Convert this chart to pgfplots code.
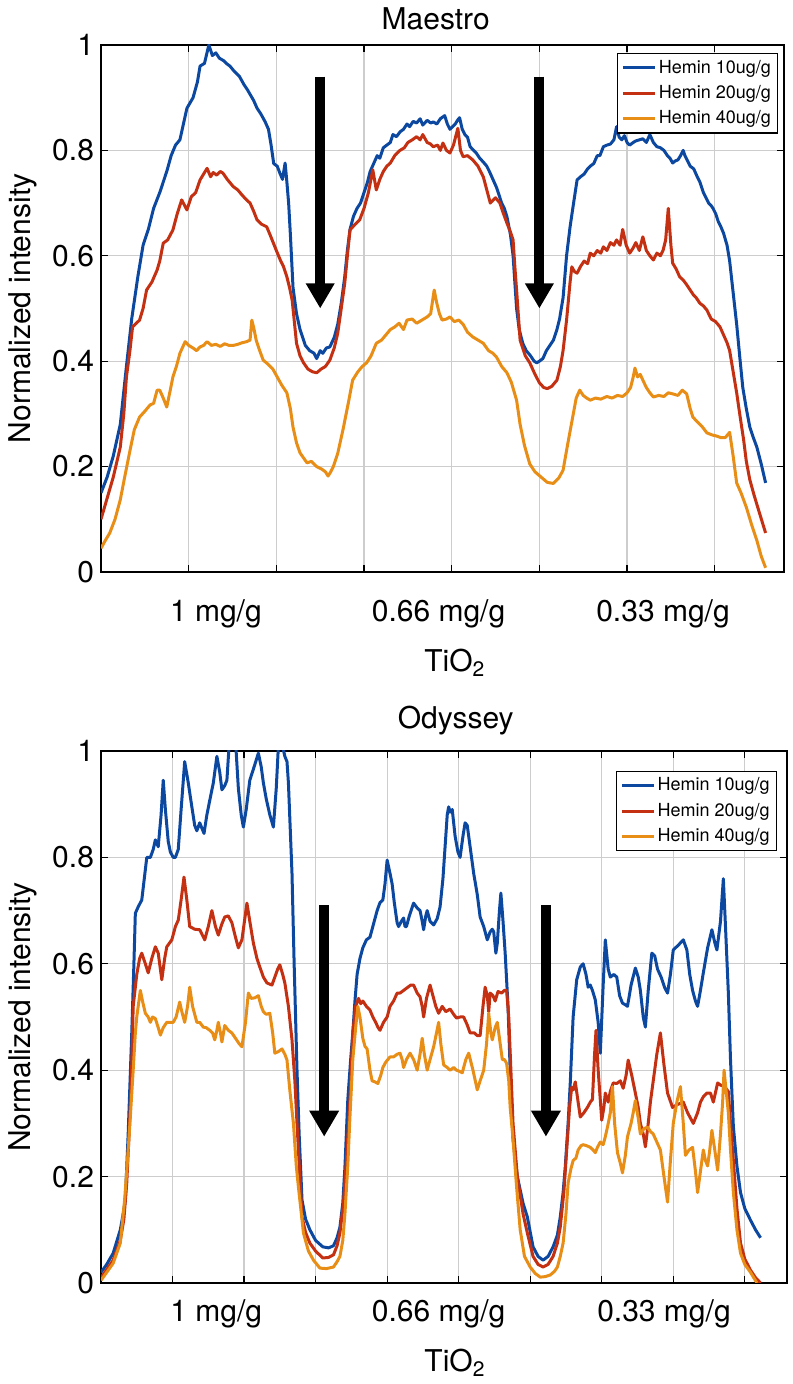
\documentclass[border=0pt]{standalone}
\usepackage{fontspec}
\setmainfont{TeX Gyre Heros}
\usepackage{pgfplots}
\pgfplotsset{compat=1.18}
\usetikzlibrary{arrows.meta}
\definecolor{cblue}{RGB}{12,72,160}
\definecolor{cred}{RGB}{196,48,18}
\definecolor{corange}{RGB}{232,142,22}
\definecolor{cgrid}{RGB}{205,205,205}
\newcommand{\bigf}{\fontsize{15}{18}\selectfont}
\pgfplotsset{
  mystyle/.style={
    scale only axis,
    xmin=0, ymin=0, ymax=1,
    ytick={0,0.2,0.4,0.6,0.8,1},
    yticklabels={0,0.2,0.4,0.6,0.8,1},
    xticklabels={},
    grid=major,
    grid style={cgrid, line width=0.6pt},
    axis line style={line width=0.6pt},
    major tick length=3.5pt,
    tick style={black, line width=0.6pt},
    tick label style={font=\bigf},
    label style={font=\bigf},
    title style={font=\bigf},
    clip mode=individual,
    legend cell align=left,
    legend style={font=\fontsize{9}{10}\selectfont, draw=black, line width=0.6pt,
      inner sep=2pt, row sep=2.2pt, nodes={inner sep=1.2pt}},
    legend image code/.code={\draw[#1, line width=1.5pt] (0pt,0pt) -- (16pt,0pt);},
    every axis plot/.append style={line width=1.5pt, line join=round},
  }
}
\begin{document}
\begin{tikzpicture}
\useasboundingbox (0,0) rectangle (396pt,692pt);
%================ TOP: Maestro ================
\begin{axis}[mystyle,
  at={(50.5pt,406pt)}, anchor=south west,
  width=341.5pt, height=263.5pt,
  xmax=7.79, xtick={1,2,3,4,5,6,7},
  title={Maestro},
  title style={at={(axis description cs:0.49,1)}, anchor=base, yshift=1.5pt},
  ylabel={Normalized intensity},
  ylabel style={at={(axis description cs:-0.115,0.5)}, anchor=center},
  xlabel={TiO\textsubscript{2}},
  xlabel style={at={(axis description cs:0.518,0)}, anchor=base, yshift=-50pt},
  legend style={at={(0.991,0.985)}, anchor=north east},
]
\addplot[cblue] coordinates {
(0,0.15) (0.07,0.18) (0.14,0.22) (0.22,0.28) (0.29,0.39) (0.35,0.48) (0.42,0.56) (0.48,0.62) (0.54,0.65) (0.6,0.69) (0.67,0.72) (0.75,0.76) (0.8,0.79) (0.85,0.81) (0.9,0.82) (0.98,0.88) (1.05,0.90) (1.1,0.93) (1.13,0.96) (1.18,0.965) (1.23,1.0) (1.27,0.98) (1.31,0.985) (1.35,0.975) (1.4,0.97) (1.43,0.965) (1.47,0.96) (1.52,0.95) (1.58,0.94) (1.63,0.925) (1.67,0.915) (1.74,0.895) (1.78,0.88) (1.82,0.87) (1.87,0.855) (1.91,0.84) (1.94,0.81) (1.97,0.775) (2.01,0.77) (2.04,0.757) (2.07,0.745) (2.10,0.776) (2.12,0.74) (2.14,0.70) (2.16,0.64) (2.19,0.54) (2.23,0.49) (2.27,0.46) (2.33,0.43) (2.38,0.42) (2.43,0.415) (2.46,0.405) (2.5,0.42) (2.53,0.415) (2.57,0.425) (2.61,0.427) (2.66,0.445) (2.70,0.47) (2.74,0.51) (2.78,0.56) (2.81,0.61) (2.84,0.65) (2.88,0.675) (2.92,0.69) (2.96,0.70) (3.0,0.72) (3.04,0.74) (3.07,0.76) (3.11,0.775) (3.15,0.79) (3.18,0.785) (3.22,0.805) (3.26,0.81) (3.3,0.815) (3.33,0.83) (3.37,0.826) (3.41,0.835) (3.45,0.84) (3.49,0.85) (3.52,0.845) (3.56,0.855) (3.6,0.852) (3.64,0.86) (3.67,0.848) (3.72,0.857) (3.76,0.852) (3.79,0.854) (3.83,0.85) (3.87,0.86) (3.92,0.866) (3.95,0.85) (3.98,0.84) (4.01,0.845) (4.04,0.85) (4.07,0.858) (4.09,0.862) (4.12,0.84) (4.15,0.83) (4.18,0.825) (4.21,0.807) (4.25,0.80) (4.28,0.795) (4.32,0.785) (4.36,0.778) (4.4,0.77) (4.43,0.76) (4.47,0.745) (4.51,0.73) (4.54,0.715) (4.57,0.70) (4.60,0.69) (4.63,0.674) (4.67,0.64) (4.70,0.60) (4.72,0.55) (4.74,0.50) (4.77,0.46) (4.81,0.434) (4.85,0.42) (4.9,0.41) (4.94,0.40) (4.97,0.397) (5.0,0.40) (5.04,0.405) (5.08,0.42) (5.12,0.43) (5.16,0.44) (5.2,0.46) (5.23,0.48) (5.27,0.52) (5.31,0.60) (5.35,0.655) (5.39,0.70) (5.43,0.744) (5.47,0.75) (5.51,0.755) (5.55,0.765) (5.58,0.77) (5.62,0.775) (5.66,0.79) (5.69,0.79) (5.73,0.807) (5.77,0.81) (5.81,0.812) (5.85,0.82) (5.88,0.845) (5.91,0.825) (5.94,0.82) (5.97,0.828) (6.0,0.815) (6.03,0.81) (6.07,0.815) (6.1,0.818) (6.14,0.82) (6.18,0.822) (6.22,0.815) (6.26,0.83) (6.30,0.815) (6.34,0.807) (6.38,0.805) (6.42,0.80) (6.46,0.79) (6.49,0.785) (6.52,0.776) (6.55,0.78) (6.58,0.782) (6.61,0.79) (6.64,0.80) (6.66,0.79) (6.69,0.78) (6.72,0.77) (6.76,0.765) (6.8,0.75) (6.83,0.74) (6.87,0.72) (6.9,0.71) (6.93,0.70) (6.96,0.695) (6.98,0.69) (7.01,0.68) (7.04,0.665) (7.07,0.655) (7.1,0.643) (7.14,0.62) (7.17,0.59) (7.21,0.53) (7.25,0.47) (7.29,0.40) (7.32,0.35) (7.36,0.31) (7.40,0.275) (7.44,0.255) (7.48,0.237) (7.53,0.205) (7.58,0.169)
};
\addlegendentry{Hemin 10ug/g}
\addplot[cred] coordinates {
(0,0.10) (0.07,0.14) (0.14,0.18) (0.22,0.237) (0.26,0.30) (0.29,0.37) (0.33,0.42) (0.36,0.465) (0.44,0.478) (0.48,0.50) (0.52,0.535) (0.58,0.55) (0.64,0.573) (0.67,0.59) (0.71,0.624) (0.76,0.63) (0.82,0.649) (0.87,0.68) (0.92,0.706) (0.98,0.687) (1.03,0.712) (1.08,0.72) (1.13,0.744) (1.17,0.755) (1.21,0.766) (1.25,0.75) (1.28,0.758) (1.32,0.753) (1.36,0.76) (1.39,0.757) (1.44,0.745) (1.51,0.731) (1.56,0.725) (1.61,0.715) (1.66,0.706) (1.70,0.70) (1.74,0.685) (1.78,0.668) (1.83,0.66) (1.89,0.655) (1.94,0.635) (2.0,0.61) (2.05,0.59) (2.08,0.58) (2.12,0.56) (2.15,0.54) (2.18,0.516) (2.23,0.434) (2.27,0.41) (2.31,0.397) (2.36,0.385) (2.41,0.38) (2.46,0.378) (2.51,0.385) (2.56,0.39) (2.61,0.402) (2.66,0.425) (2.70,0.453) (2.74,0.50) (2.78,0.548) (2.81,0.60) (2.84,0.649) (2.9,0.66) (2.95,0.668) (3.0,0.69) (3.05,0.72) (3.10,0.763) (3.14,0.725) (3.18,0.745) (3.22,0.76) (3.26,0.77) (3.30,0.776) (3.35,0.79) (3.41,0.80) (3.46,0.805) (3.5,0.815) (3.55,0.82) (3.6,0.826) (3.64,0.82) (3.67,0.83) (3.72,0.815) (3.76,0.812) (3.79,0.807) (3.84,0.81) (3.87,0.80) (3.90,0.814) (3.94,0.80) (3.98,0.795) (4.02,0.81) (4.07,0.842) (4.10,0.80) (4.13,0.788) (4.18,0.79) (4.24,0.782) (4.3,0.77) (4.36,0.75) (4.40,0.725) (4.44,0.70) (4.5,0.71) (4.55,0.70) (4.59,0.68) (4.63,0.662) (4.67,0.645) (4.70,0.63) (4.72,0.58) (4.74,0.535) (4.78,0.44) (4.84,0.41) (4.89,0.397) (4.95,0.375) (5.0,0.359) (5.05,0.35) (5.09,0.348) (5.14,0.352) (5.2,0.364) (5.24,0.39) (5.27,0.42) (5.31,0.478) (5.35,0.55) (5.37,0.579) (5.40,0.57) (5.43,0.567) (5.47,0.58) (5.51,0.59) (5.55,0.585) (5.58,0.605) (5.62,0.60) (5.66,0.61) (5.70,0.605) (5.73,0.617) (5.77,0.61) (5.81,0.625) (5.85,0.62) (5.88,0.63) (5.92,0.62) (5.95,0.65) (5.99,0.62) (6.03,0.605) (6.07,0.615) (6.1,0.625) (6.14,0.61) (6.18,0.636) (6.22,0.61) (6.26,0.60) (6.30,0.592) (6.34,0.605) (6.38,0.60) (6.41,0.61) (6.44,0.63) (6.47,0.69) (6.5,0.62) (6.52,0.586) (6.56,0.575) (6.6,0.56) (6.64,0.554) (6.68,0.545) (6.72,0.535) (6.76,0.525) (6.79,0.52) (6.83,0.51) (6.87,0.505) (6.91,0.497) (6.96,0.48) (7.01,0.475) (7.06,0.465) (7.1,0.45) (7.14,0.435) (7.17,0.42) (7.21,0.38) (7.25,0.34) (7.29,0.294) (7.33,0.25) (7.36,0.21) (7.40,0.175) (7.45,0.145) (7.51,0.112) (7.58,0.074)
};
\addlegendentry{Hemin 20ug/g}
\addplot[corange] coordinates {
(0,0.045) (0.05,0.06) (0.10,0.074) (0.16,0.10) (0.22,0.137) (0.27,0.18) (0.33,0.23) (0.38,0.27) (0.44,0.294) (0.50,0.305) (0.56,0.317) (0.6,0.32) (0.64,0.345) (0.67,0.345) (0.71,0.33) (0.75,0.313) (0.79,0.345) (0.82,0.37) (0.86,0.39) (0.90,0.415) (0.96,0.437) (1.0,0.43) (1.05,0.425) (1.09,0.42) (1.13,0.427) (1.17,0.43) (1.21,0.437) (1.26,0.43) (1.31,0.432) (1.36,0.428) (1.41,0.433) (1.46,0.43) (1.51,0.43) (1.56,0.432) (1.61,0.435) (1.66,0.437) (1.70,0.44) (1.72,0.478) (1.74,0.465) (1.77,0.44) (1.81,0.42) (1.85,0.402) (1.9,0.395) (1.96,0.385) (2.01,0.37) (2.06,0.355) (2.12,0.34) (2.16,0.31) (2.19,0.275) (2.23,0.245) (2.27,0.226) (2.35,0.207) (2.40,0.21) (2.46,0.20) (2.52,0.195) (2.56,0.19) (2.59,0.182) (2.62,0.19) (2.65,0.2) (2.7,0.225) (2.76,0.27) (2.82,0.32) (2.87,0.364) (2.93,0.38) (2.98,0.39) (3.03,0.397) (3.08,0.41) (3.14,0.434) (3.2,0.44) (3.25,0.45) (3.30,0.46) (3.35,0.465) (3.4,0.472) (3.45,0.46) (3.49,0.478) (3.55,0.48) (3.6,0.472) (3.66,0.478) (3.72,0.484) (3.76,0.49) (3.80,0.535) (3.83,0.51) (3.86,0.49) (3.89,0.478) (3.94,0.48) (3.98,0.484) (4.03,0.475) (4.08,0.478) (4.13,0.47) (4.18,0.455) (4.24,0.446) (4.3,0.44) (4.36,0.434) (4.42,0.42) (4.47,0.415) (4.51,0.408) (4.57,0.39) (4.63,0.378) (4.68,0.36) (4.74,0.326) (4.78,0.28) (4.83,0.24) (4.89,0.205) (4.95,0.19) (5.02,0.18) (5.09,0.17) (5.16,0.168) (5.22,0.178) (5.27,0.193) (5.32,0.24) (5.38,0.294) (5.42,0.33) (5.46,0.345) (5.5,0.335) (5.54,0.33) (5.58,0.326) (5.64,0.33) (5.7,0.328) (5.77,0.333) (5.83,0.33) (5.89,0.335) (5.95,0.333) (6.0,0.34) (6.04,0.35) (6.07,0.37) (6.09,0.387) (6.12,0.37) (6.15,0.375) (6.18,0.364) (6.22,0.35) (6.26,0.34) (6.30,0.332) (6.36,0.335) (6.42,0.333) (6.47,0.34) (6.52,0.338) (6.58,0.335) (6.63,0.345) (6.68,0.338) (6.72,0.31) (6.75,0.294) (6.8,0.285) (6.86,0.275) (6.91,0.264) (6.97,0.26) (7.02,0.258) (7.07,0.255) (7.12,0.255) (7.17,0.265) (7.21,0.22) (7.25,0.169) (7.3,0.15) (7.36,0.123) (7.42,0.09) (7.48,0.06) (7.53,0.03) (7.58,0.008)
};
\addlegendentry{Hemin 40ug/g}
\draw[line width=5pt, -{Triangle[width=13.5pt,length=12.5pt]}] (axis cs:2.5,0.94) -- (axis cs:2.5,0.50);
\draw[line width=5pt, -{Triangle[width=13.5pt,length=12.5pt]}] (axis cs:5.0,0.94) -- (axis cs:5.0,0.50);
\node[anchor=base, font=\bigf] at ([yshift=-25pt]axis cs:1.31,0) {1 mg/g};
\node[anchor=base, font=\bigf] at ([yshift=-25pt]axis cs:3.85,0) {0.66 mg/g};
\node[anchor=base, font=\bigf] at ([yshift=-25pt]axis cs:6.41,0) {0.33 mg/g};
\end{axis}
%================ BOTTOM: Odyssey ================
\begin{axis}[mystyle,
  at={(50.5pt,50.5pt)}, anchor=south west,
  width=343pt, height=266pt,
  xmax=9.59, xtick={1,2,3,4,5,6,7,8,9},
  title={Odyssey},
  title style={at={(axis description cs:0.517,1)}, anchor=base, yshift=5pt},
  ylabel={Normalized intensity},
  ylabel style={at={(axis description cs:-0.1145,0.5)}, anchor=center},
  xlabel={TiO\textsubscript{2}},
  xlabel style={at={(axis description cs:0.516,0)}, anchor=base, yshift=-44.5pt},
  legend style={at={(0.985,0.963)}, anchor=north east},
]
\addplot[cblue] coordinates {
(0,0.02) (0.08,0.035) (0.17,0.056) (0.27,0.10) (0.31,0.13) (0.34,0.156) (0.38,0.28) (0.43,0.47) (0.46,0.60) (0.48,0.695) (0.52,0.707) (0.57,0.72) (0.64,0.80) (0.69,0.80) (0.73,0.815) (0.76,0.833) (0.80,0.82) (0.84,0.88) (0.87,0.945) (0.90,0.89) (0.94,0.83) (0.97,0.81) (1.01,0.80) (1.04,0.80) (1.08,0.815) (1.12,0.89) (1.17,0.98) (1.22,0.94) (1.27,0.895) (1.31,0.86) (1.34,0.85) (1.38,0.865) (1.41,0.855) (1.44,0.845) (1.48,0.88) (1.52,0.907) (1.57,0.94) (1.62,0.99) (1.66,0.96) (1.69,0.927) (1.73,0.935) (1.76,0.945) (1.80,1.03) (1.84,1.05) (1.88,1.02) (1.92,0.93) (1.96,0.88) (1.99,0.857) (2.03,0.89) (2.08,0.945) (2.14,0.97) (2.2,0.996) (2.24,0.97) (2.27,0.94) (2.31,0.91) (2.36,0.88) (2.41,0.857) (2.45,0.93) (2.48,1.01) (2.52,1.02) (2.57,0.99) (2.60,0.98) (2.62,0.94) (2.67,0.77) (2.70,0.6) (2.74,0.40) (2.77,0.28) (2.81,0.156) (2.86,0.12) (2.92,0.10) (3.0,0.08) (3.1,0.068) (3.18,0.066) (3.25,0.07) (3.3,0.085) (3.34,0.105) (3.38,0.15) (3.41,0.218) (3.45,0.344) (3.49,0.42) (3.52,0.47) (3.55,0.53) (3.58,0.58) (3.62,0.61) (3.66,0.63) (3.71,0.645) (3.76,0.65) (3.81,0.675) (3.86,0.70) (3.90,0.715) (3.94,0.72) (3.97,0.75) (4.0,0.795) (4.04,0.77) (4.07,0.75) (4.1,0.715) (4.14,0.677) (4.16,0.67) (4.2,0.68) (4.23,0.686) (4.25,0.67) (4.27,0.67) (4.31,0.69) (4.37,0.714) (4.42,0.705) (4.46,0.70) (4.49,0.68) (4.51,0.664) (4.54,0.69) (4.56,0.70) (4.6,0.68) (4.65,0.673) (4.7,0.685) (4.74,0.707) (4.78,0.76) (4.81,0.82) (4.84,0.88) (4.86,0.895) (4.88,0.885) (4.91,0.89) (4.95,0.84) (4.99,0.81) (5.02,0.80) (5.06,0.84) (5.09,0.865) (5.12,0.86) (5.16,0.82) (5.21,0.77) (5.26,0.73) (5.30,0.688) (5.35,0.67) (5.40,0.645) (5.44,0.66) (5.47,0.665) (5.49,0.66) (5.52,0.62) (5.54,0.639) (5.57,0.70) (5.59,0.733) (5.62,0.68) (5.65,0.62) (5.69,0.52) (5.72,0.40) (5.76,0.27) (5.82,0.20) (5.90,0.15) (5.96,0.124) (6.04,0.068) (6.11,0.05) (6.18,0.043) (6.25,0.05) (6.32,0.068) (6.38,0.09) (6.42,0.124) (6.46,0.17) (6.49,0.218) (6.53,0.30) (6.56,0.376) (6.60,0.50) (6.65,0.57) (6.70,0.594) (6.74,0.60) (6.78,0.58) (6.81,0.556) (6.84,0.56) (6.87,0.55) (6.91,0.532) (6.95,0.49) (6.98,0.432) (7.02,0.56) (7.05,0.645) (7.09,0.59) (7.12,0.575) (7.17,0.58) (7.21,0.575) (7.25,0.54) (7.29,0.526) (7.33,0.523) (7.36,0.52) (7.41,0.56) (7.47,0.592) (7.51,0.575) (7.54,0.55) (7.58,0.50) (7.61,0.481) (7.65,0.55) (7.70,0.62) (7.74,0.615) (7.78,0.59) (7.83,0.575) (7.88,0.555) (7.92,0.545) (7.96,0.58) (8.0,0.626) (8.07,0.635) (8.14,0.645) (8.19,0.626) (8.23,0.58) (8.27,0.55) (8.31,0.53) (8.34,0.52) (8.38,0.55) (8.42,0.583) (8.48,0.63) (8.54,0.664) (8.58,0.64) (8.61,0.626) (8.66,0.68) (8.70,0.76) (8.73,0.67) (8.77,0.545) (8.8,0.42) (8.84,0.294) (8.89,0.22) (8.94,0.17) (9.0,0.14) (9.08,0.118) (9.15,0.10) (9.22,0.085)
};
\addlegendentry{Hemin 10ug/g}
\addplot[cred] coordinates {
(0,0.01) (0.08,0.025) (0.17,0.043) (0.27,0.08) (0.32,0.12) (0.36,0.188) (0.4,0.30) (0.43,0.41) (0.45,0.52) (0.5,0.58) (0.54,0.61) (0.57,0.62) (0.62,0.60) (0.66,0.583) (0.71,0.61) (0.76,0.632) (0.8,0.62) (0.85,0.57) (0.89,0.61) (0.92,0.632) (0.99,0.645) (1.04,0.67) (1.08,0.682) (1.12,0.72) (1.16,0.763) (1.2,0.72) (1.24,0.67) (1.31,0.665) (1.38,0.664) (1.45,0.645) (1.5,0.67) (1.55,0.70) (1.6,0.67) (1.64,0.654) (1.69,0.675) (1.73,0.688) (1.78,0.69) (1.83,0.677) (1.88,0.65) (1.92,0.63) (1.97,0.645) (2.04,0.714) (2.08,0.68) (2.13,0.639) (2.18,0.61) (2.22,0.594) (2.27,0.575) (2.32,0.564) (2.39,0.56) (2.43,0.575) (2.47,0.59) (2.50,0.598) (2.54,0.58) (2.57,0.564) (2.62,0.52) (2.67,0.457) (2.71,0.38) (2.74,0.30) (2.78,0.20) (2.81,0.124) (2.86,0.095) (2.92,0.075) (3.0,0.06) (3.1,0.047) (3.18,0.048) (3.25,0.053) (3.3,0.07) (3.34,0.094) (3.39,0.15) (3.44,0.25) (3.48,0.344) (3.52,0.47) (3.56,0.52) (3.6,0.535) (3.63,0.525) (3.66,0.53) (3.71,0.52) (3.76,0.513) (3.8,0.50) (3.84,0.49) (3.87,0.481) (3.9,0.475) (3.95,0.49) (4.0,0.5) (4.04,0.52) (4.09,0.53) (4.14,0.545) (4.18,0.545) (4.23,0.55) (4.28,0.555) (4.33,0.56) (4.37,0.56) (4.42,0.545) (4.46,0.538) (4.49,0.52) (4.51,0.50) (4.55,0.535) (4.6,0.56) (4.64,0.54) (4.68,0.52) (4.72,0.507) (4.77,0.52) (4.82,0.51) (4.88,0.515) (4.93,0.505) (4.97,0.498) (5.02,0.50) (5.07,0.50) (5.12,0.485) (5.16,0.47) (5.22,0.47) (5.26,0.465) (5.30,0.465) (5.34,0.52) (5.37,0.556) (5.40,0.54) (5.42,0.51) (5.44,0.545) (5.48,0.54) (5.51,0.53) (5.55,0.548) (5.6,0.545) (5.64,0.55) (5.67,0.55) (5.70,0.50) (5.73,0.40) (5.76,0.30) (5.82,0.20) (5.9,0.13) (5.96,0.094) (6.04,0.05) (6.11,0.035) (6.18,0.03) (6.25,0.035) (6.32,0.05) (6.38,0.075) (6.42,0.105) (6.47,0.17) (6.51,0.25) (6.55,0.33) (6.58,0.368) (6.60,0.363) (6.63,0.378) (6.67,0.34) (6.70,0.312) (6.75,0.32) (6.80,0.33) (6.84,0.34) (6.87,0.345) (6.9,0.43) (6.92,0.475) (6.95,0.40) (7.0,0.306) (7.03,0.33) (7.05,0.357) (7.09,0.34) (7.12,0.36) (7.16,0.376) (7.21,0.375) (7.26,0.38) (7.30,0.366) (7.34,0.39) (7.37,0.419) (7.42,0.39) (7.47,0.357) (7.51,0.33) (7.54,0.30) (7.58,0.28) (7.61,0.256) (7.65,0.30) (7.68,0.34) (7.72,0.38) (7.77,0.43) (7.82,0.47) (7.87,0.41) (7.92,0.357) (7.99,0.33) (8.05,0.335) (8.14,0.34) (8.2,0.32) (8.28,0.30) (8.34,0.32) (8.38,0.34) (8.42,0.35) (8.47,0.357) (8.52,0.357) (8.56,0.34) (8.62,0.376) (8.66,0.372) (8.70,0.37) (8.74,0.365) (8.77,0.36) (8.8,0.30) (8.84,0.23) (8.89,0.14) (8.94,0.075) (9.0,0.045) (9.08,0.024) (9.15,0.01) (9.22,0.0)
};
\addlegendentry{Hemin 20ug/g}
\addplot[corange] coordinates {
(0,0.005) (0.08,0.02) (0.17,0.037) (0.27,0.075) (0.33,0.156) (0.37,0.23) (0.41,0.312) (0.45,0.40) (0.48,0.47) (0.50,0.50) (0.55,0.55) (0.58,0.53) (0.62,0.507) (0.66,0.50) (0.69,0.49) (0.72,0.50) (0.76,0.497) (0.8,0.48) (0.83,0.466) (0.87,0.48) (0.92,0.49) (0.96,0.49) (1.01,0.49) (1.05,0.50) (1.10,0.528) (1.13,0.51) (1.17,0.49) (1.21,0.52) (1.24,0.556) (1.28,0.52) (1.34,0.49) (1.38,0.49) (1.43,0.481) (1.47,0.48) (1.52,0.475) (1.56,0.47) (1.59,0.457) (1.62,0.475) (1.64,0.49) (1.67,0.47) (1.69,0.453) (1.73,0.484) (1.78,0.475) (1.83,0.47) (1.88,0.46) (1.93,0.45) (1.97,0.444) (2.02,0.49) (2.06,0.545) (2.1,0.535) (2.15,0.536) (2.2,0.54) (2.24,0.52) (2.27,0.51) (2.31,0.505) (2.36,0.507) (2.40,0.47) (2.43,0.432) (2.48,0.435) (2.53,0.44) (2.57,0.43) (2.60,0.419) (2.64,0.362) (2.69,0.30) (2.73,0.22) (2.76,0.18) (2.83,0.094) (2.9,0.06) (2.97,0.043) (3.06,0.028) (3.15,0.027) (3.25,0.03) (3.3,0.04) (3.34,0.05) (3.38,0.08) (3.41,0.13) (3.45,0.22) (3.48,0.312) (3.52,0.42) (3.56,0.48) (3.59,0.52) (3.62,0.50) (3.66,0.46) (3.69,0.445) (3.72,0.44) (3.76,0.40) (3.79,0.38) (3.83,0.378) (3.87,0.375) (3.91,0.39) (3.94,0.405) (3.98,0.415) (4.04,0.425) (4.09,0.425) (4.14,0.43) (4.18,0.432) (4.21,0.42) (4.23,0.405) (4.27,0.42) (4.32,0.432) (4.37,0.42) (4.42,0.40) (4.46,0.43) (4.49,0.46) (4.52,0.43) (4.56,0.40) (4.6,0.42) (4.65,0.444) (4.69,0.47) (4.72,0.49) (4.75,0.45) (4.79,0.41) (4.84,0.405) (4.88,0.40) (4.93,0.405) (4.97,0.40) (5.01,0.398) (5.05,0.395) (5.1,0.42) (5.14,0.432) (5.2,0.40) (5.26,0.363) (5.3,0.38) (5.35,0.40) (5.39,0.45) (5.42,0.507) (5.45,0.47) (5.47,0.457) (5.51,0.48) (5.54,0.49) (5.58,0.45) (5.61,0.42) (5.64,0.42) (5.67,0.413) (5.70,0.38) (5.72,0.33) (5.76,0.27) (5.81,0.18) (5.86,0.10) (5.92,0.05) (6.0,0.03) (6.07,0.018) (6.14,0.011) (6.21,0.012) (6.28,0.015) (6.34,0.022) (6.38,0.03) (6.42,0.05) (6.46,0.075) (6.5,0.13) (6.53,0.188) (6.57,0.215) (6.60,0.23) (6.64,0.235) (6.67,0.25) (6.71,0.258) (6.74,0.26) (6.79,0.258) (6.84,0.255) (6.88,0.25) (6.91,0.245) (6.94,0.255) (6.98,0.265) (7.02,0.26) (7.05,0.275) (7.08,0.293) (7.12,0.32) (7.15,0.369) (7.18,0.30) (7.22,0.245) (7.26,0.225) (7.29,0.207) (7.33,0.24) (7.36,0.275) (7.41,0.30) (7.44,0.32) (7.47,0.343) (7.51,0.31) (7.54,0.28) (7.59,0.29) (7.64,0.293) (7.68,0.285) (7.72,0.28) (7.77,0.265) (7.82,0.25) (7.87,0.2) (7.92,0.152) (7.96,0.23) (8.0,0.30) (8.05,0.34) (8.10,0.369) (8.14,0.30) (8.17,0.24) (8.22,0.25) (8.27,0.255) (8.31,0.21) (8.34,0.17) (8.38,0.21) (8.42,0.25) (8.45,0.23) (8.48,0.22) (8.51,0.25) (8.54,0.287) (8.58,0.25) (8.62,0.212) (8.66,0.28) (8.69,0.34) (8.71,0.40) (8.74,0.36) (8.77,0.32) (8.8,0.25) (8.84,0.17) (8.89,0.1) (8.94,0.056) (9.0,0.035) (9.08,0.02) (9.17,0.0)
};
\addlegendentry{Hemin 40ug/g}
\draw[line width=5pt, -{Triangle[width=14pt,length=13pt]}] (axis cs:3.12,0.71) -- (axis cs:3.12,0.275);
\draw[line width=5pt, -{Triangle[width=14pt,length=13pt]}] (axis cs:6.22,0.71) -- (axis cs:6.22,0.275);
\node[anchor=base, font=\bigf] at ([yshift=-19.4pt]axis cs:1.61,0) {1 mg/g};
\node[anchor=base, font=\bigf] at ([yshift=-19.4pt]axis cs:4.72,0) {0.66 mg/g};
\node[anchor=base, font=\bigf] at ([yshift=-19.4pt]axis cs:7.87,0) {0.33 mg/g};
\end{axis}
\end{tikzpicture}
\end{document}
